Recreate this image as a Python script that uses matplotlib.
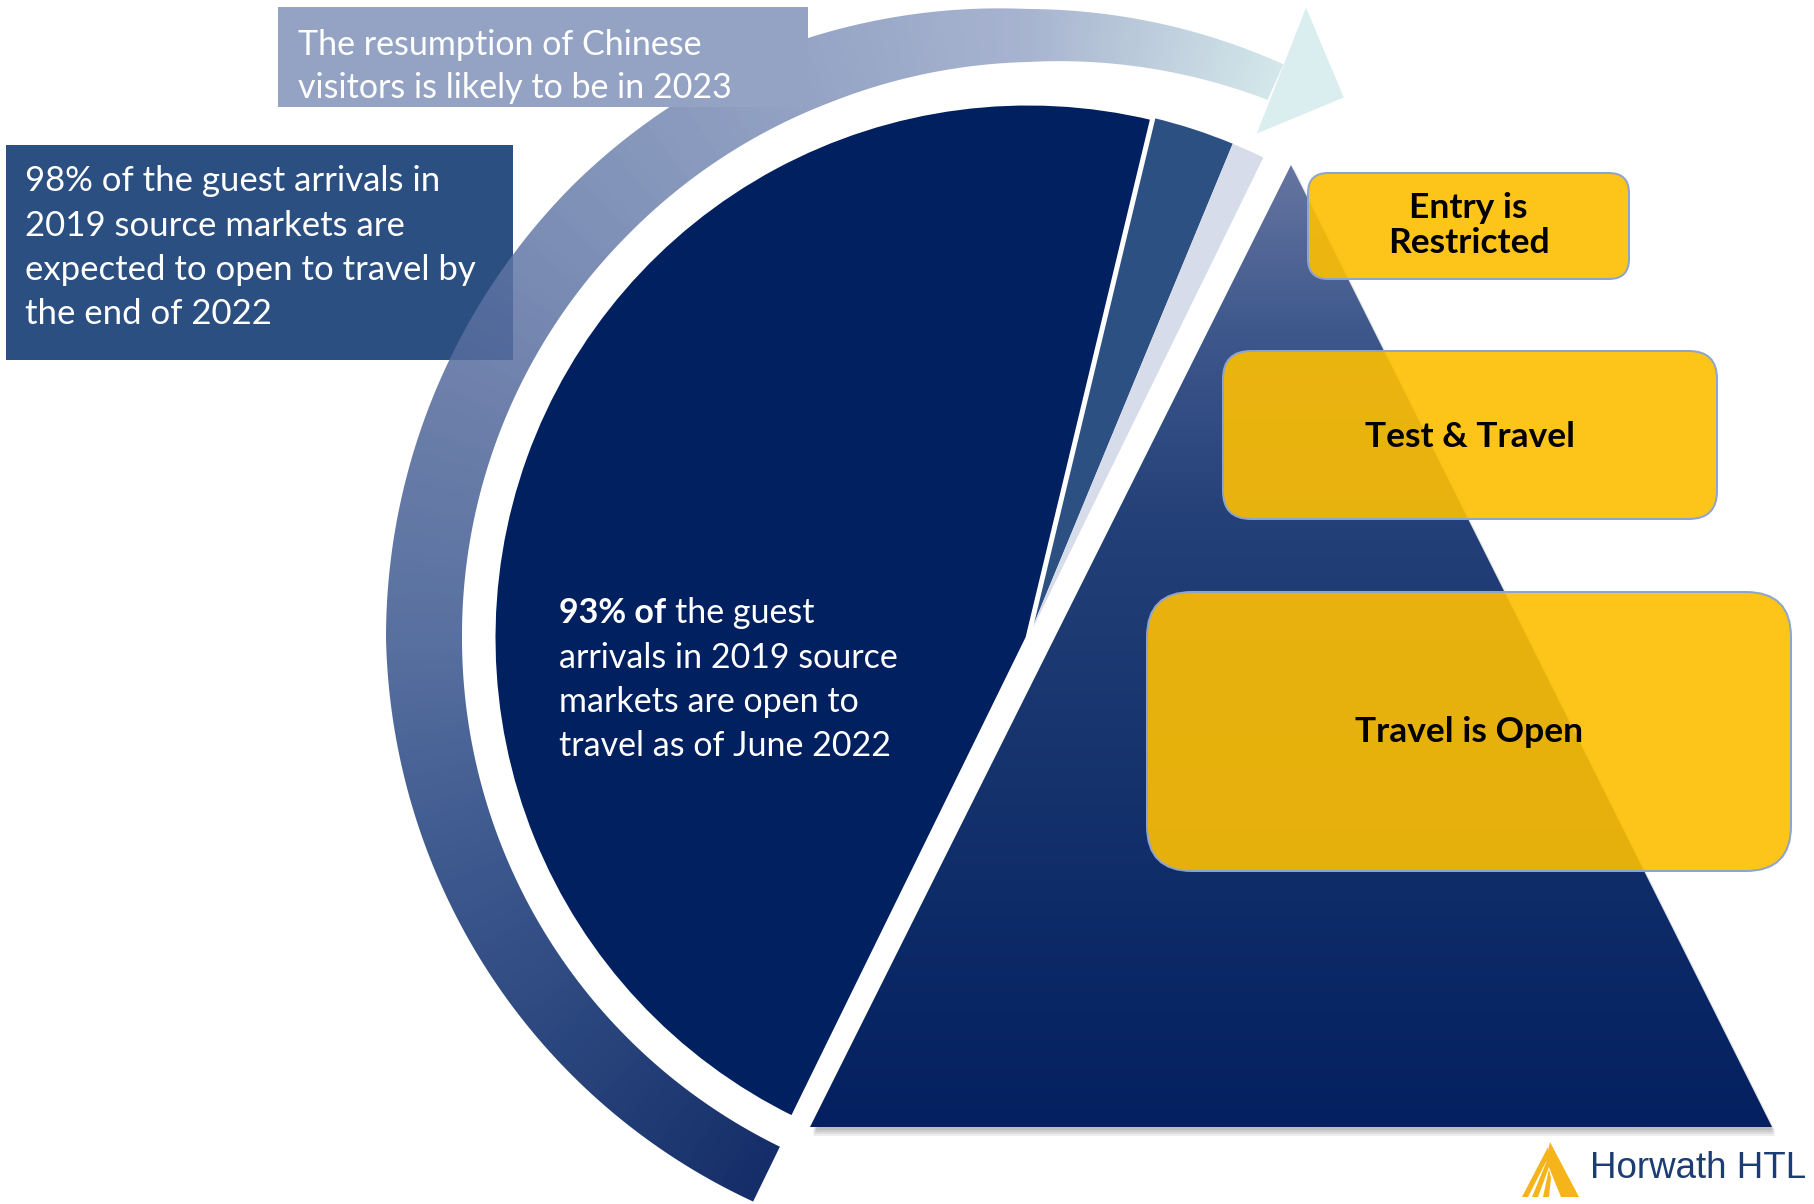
import numpy as np
import matplotlib
matplotlib.use("Agg")
import matplotlib.pyplot as plt
from matplotlib.patches import Polygon, FancyBboxPatch
from matplotlib import font_manager as fm

W, H = 1814, 1204
DPI = 100

# ---------------- data ----------------
share_labels = ["Open to travel as of June 2022",
                "Expected to open by the end of 2022",
                "Chinese visitors, likely in 2023"]
share_values = [93, 5, 2]          # % of 2019 guest arrivals (shown on a half pie)
share_colors = ["#012060", "#2d5083", "#d6dcea"]

stage_labels = ["Entry is\nRestricted", "Test & Travel", "Travel is Open"]

note_china_lines = ["The resumption of Chinese", "visitors is likely to be in 2023"]
note_98_lines = ["98% of the guest arrivals in", "2019 source markets are",
                 "expected to open to travel by", "the end of 2022"]
note_93_bold = "93% of"
note_93_lines = ["the guest", "arrivals in 2019 source",
                 "markets are open to", "travel as of June 2022"]
brand = "Horwath HTL"

# ---------------- fonts ----------------
names = {f.name for f in fm.fontManager.ttflist}
BODY = "Lato" if "Lato" in names else "DejaVu Sans"
LOGO = "Liberation Sans" if "Liberation Sans" in names else BODY


def Y(y_img):
    return H - y_img


def px(v):
    return v * 72.0 / DPI


fig = plt.figure(figsize=(W / DPI, H / DPI), dpi=DPI)
fig.patch.set_facecolor("white")
ax = fig.add_axes([0, 0, 1, 1])

CX, CY = 1028, Y(638)
R = 535


def polar(r, th):
    t = np.radians(th)
    return CX + r * np.cos(t), CY + r * np.sin(t)


def fix_limits():
    ax.set_xlim(0, W)
    ax.set_ylim(0, H)
    ax.set_aspect("equal")
    ax.set_axis_off()


# ---------------- half pie ----------------
vals = share_values + [sum(share_values)]
wedges, _ = ax.pie(vals, colors=share_colors + ["white"], startangle=243.9,
                   counterclock=False, center=(CX, CY), radius=R,
                   wedgeprops=dict(linewidth=0))
wedges[-1].set_visible(False)
wedges[0].set_edgecolor("white")
wedges[0].set_linewidth(px(5))
wedges[0].set_zorder(5)
wedges[1].set_zorder(4)
wedges[2].set_zorder(4)
fix_limits()

# ---------------- curved arrow band ----------------
ths = np.linspace(66, 244, 500)
ang_c = [66, 90, 110, 135, 180, 244]
inner = np.interp(ths, ang_c, [589, 576, 571, 568, 566, 566])
outer = np.interp(ths, ang_c, [628, 629, 639, 642, 642, 627])
pts = [polar(r, t) for r, t in zip(outer, ths)] + \
      [polar(r, t) for r, t in zip(inner[::-1], ths[::-1])]
band = Polygon(pts, closed=True, facecolor="none", edgecolor="none", zorder=2)
ax.add_patch(band)

gx = np.arange(0, W, 2) + 1.0
gy = np.arange(0, H, 2) + 1.0
GX, GY = np.meshgrid(gx, gy)
TH = np.degrees(np.arctan2(GY - CY, GX - CX)) % 360
c_ang = [56, 66, 75, 90, 110, 135, 158, 180, 200, 225, 244, 262]
c_obs = np.array([(218, 238, 240), (212, 232, 235), (196, 212, 224), (168, 180, 208),
                  (150, 165, 198), (128, 146, 184), (108, 127, 170), (88, 112, 160),
                  (62, 90, 143), (38, 66, 122), (20, 45, 104), (20, 45, 104)]) / 255.0
a_ang = [56, 100, 158, 200, 244, 262]
a_val = [0.75, 0.8, 0.86, 0.95, 1.0, 1.0]
A = np.interp(TH, a_ang, a_val)
img = np.zeros(TH.shape + (4,))
for k in range(3):
    obs = np.interp(TH, c_ang, c_obs[:, k])
    img[..., k] = np.clip((obs - (1 - A)) / A, 0, 1)
img[..., 3] = A
im = ax.imshow(img, extent=(0, W, 0, H), origin="lower", interpolation="bilinear", zorder=2)
im.set_clip_path(band)

head = Polygon([polar(689, 66.2), polar(626, 59.7), polar(554, 65.6)], closed=True,
               facecolor="#daeef0", edgecolor="none", zorder=2)
ax.add_patch(head)

# ---------------- text boxes ----------------
box98 = FancyBboxPatch((6, Y(360)), 507, 215, boxstyle="square,pad=0",
                       facecolor="#2c4f82", edgecolor="none", zorder=1)
ax.add_patch(box98)
boxcn = FancyBboxPatch((278, Y(107)), 530, 100, boxstyle="square,pad=0",
                       facecolor="#94a3c4", edgecolor="none", zorder=3)
ax.add_patch(boxcn)

FS = 24.5
for i, line in enumerate(note_china_lines):
    ax.text(298, Y(55 + 43 * i), line, color="white", fontsize=FS, family=BODY,
            ha="left", va="baseline", zorder=10)
for i, line in enumerate(note_98_lines):
    ax.text(25, Y(191 + 44.5 * i), line, color="white", fontsize=FS + 0.5, family=BODY,
            ha="left", va="baseline", zorder=10)

# ---------------- pyramid ----------------
TX, TTOP, TBOT, THW = 1291, Y(165), Y(1127), 481
tri_pts = [(TX, TTOP), (TX - THW, TBOT), (TX + THW, TBOT)]
for d in [9, 7, 5, 3]:
    sh = Polygon([(x + 3, y - d) for x, y in tri_pts], closed=True,
                 facecolor="black", alpha=0.07, edgecolor="none", zorder=3)
    ax.add_patch(sh)
tri = Polygon(tri_pts, closed=True, facecolor="none", edgecolor="none", zorder=4)
ax.add_patch(tri)
ty = np.linspace(TBOT, TTOP, 300)
t_y = [Y(1127), Y(900), Y(520), Y(330), Y(165)]
t_c = np.array([(4, 32, 96), (14, 44, 104), (36, 64, 120), (62, 88, 140), (102, 117, 161)]) / 255.0
timg = np.zeros((len(ty), 1, 3))
for k in range(3):
    timg[:, 0, k] = np.interp(ty, t_y, t_c[:, k])
tim = ax.imshow(timg, extent=(TX - THW, TX + THW, TBOT, TTOP), origin="lower",
                interpolation="bilinear", aspect="auto", zorder=4)
tim.set_clip_path(tri)
fix_limits()

# ---------------- stage boxes ----------------
stage_boxes = [(1308, 173, 1629, 279, 20, [218, 253]),
               (1223, 351, 1717, 519, 28, [447]),
               (1147, 592, 1791, 871, 45, [742])]
yellow = (253 / 255, 190 / 255, 3 / 255, 0.91)
for label, (x0, y0, x1, y1, rr, bases) in zip(stage_labels, stage_boxes):
    b = FancyBboxPatch((x0, Y(y1)), x1 - x0, y1 - y0,
                       boxstyle=f"round,pad=0,rounding_size={rr}",
                       facecolor=yellow, edgecolor="#8fa4cc", linewidth=px(2), zorder=6)
    ax.add_patch(b)
    for line, bl in zip(label.split("\n"), bases):
        ax.text((x0 + x1) / 2, Y(bl), line, color="black", fontsize=25.5, fontweight="bold",
                family=BODY, ha="center", va="baseline", zorder=7)

# ---------------- text inside pie ----------------
renderer = fig.canvas.get_renderer()
t0 = ax.text(559, Y(623), note_93_bold, color="white", fontsize=FS, fontweight="bold",
             family=BODY, ha="left", va="baseline", zorder=10)
bb = t0.get_window_extent(renderer)
x_next = ax.transData.inverted().transform((bb.x1, bb.y0))[0]
ax.text(x_next + 0.27 * FS / 0.72, Y(623), note_93_lines[0], color="white", fontsize=FS,
        family=BODY, ha="left", va="baseline", zorder=10)
for i, line in enumerate(note_93_lines[1:], start=1):
    ax.text(559, Y(623 + 44.5 * i), line, color="white", fontsize=FS, family=BODY,
            ha="left", va="baseline", zorder=10)

# ---------------- logo ----------------
gold = "#f4b41a"
logo_polys = [
    [(1550, Y(1142)), (1579, Y(1197)), (1561, Y(1197)), (1546, Y(1160))],
    [(1548, Y(1147)), (1522, Y(1197)), (1528, Y(1197)), (1549, Y(1156))],
    [(1548, Y(1158)), (1532, Y(1197)), (1538, Y(1197)), (1549, Y(1167))],
    [(1549, Y(1169)), (1543, Y(1197)), (1549, Y(1197)), (1551, Y(1178))],
]
for p in logo_polys:
    ax.add_patch(Polygon(p, closed=True, facecolor=gold, edgecolor="none", zorder=8))
ax.text(1590, Y(1178), brand, color="#1c3c74", fontsize=26.5, family=LOGO,
        ha="left", va="baseline", zorder=8)

fix_limits()
fig.savefig("out.png", dpi=DPI, facecolor="white")
